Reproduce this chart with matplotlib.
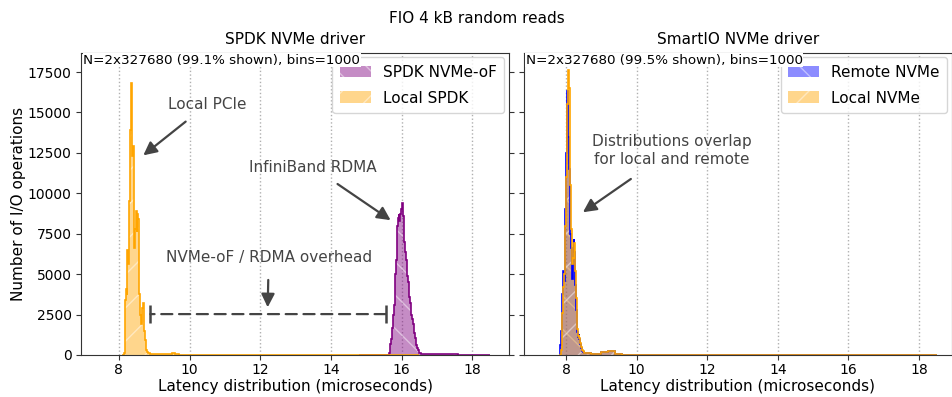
import numpy as np
import matplotlib
matplotlib.use("Agg")
import matplotlib.pyplot as plt

# ---------------------------------------------------------------------------
# Histogram data (latency in microseconds, number of I/O operations per bin)
# Core regions use 0.02 us bins; sparse tails use wider bins.
# ---------------------------------------------------------------------------
BIN = 0.02

# Left panel: SPDK driver
local_spdk_core_start = 8.10
local_spdk_core = [0, 0, 150, 1800, 3400, 4100, 3700, 6500, 5600, 9500,
                   11500, 13900, 16800, 15600, 12300, 12900, 9000, 6600, 7800, 8900,
                   7600, 8700, 8400, 5800, 3800, 2500, 1900, 2300, 2900, 3200,
                   2600, 1500, 900, 500, 300, 200, 150, 120, 100, 90]
local_spdk_tail_edges = [8.90, 9.0, 9.2, 9.4, 9.5, 9.6, 9.7, 10.0, 12.0, 14.5, 15.5, 16.5]
local_spdk_tail = [70, 45, 35, 60, 130, 60, 25, 8, 3, 15, 0]

nvmeof_head_edges = [14.8, 15.2, 15.62]
nvmeof_head = [10, 20]
nvmeof_core_start = 15.62
nvmeof_core = [0, 100, 300, 700, 1000, 1300, 1700, 2500, 3100, 3900,
               5000, 5900, 7000, 8000, 8500, 8700, 8300, 8700, 9000, 9300,
               9400, 8600, 7600, 7000, 6400, 5900, 5400, 4900, 4500, 4000,
               3600, 3200, 2900, 2500, 2200, 1900, 1600, 1350, 1050, 820,
               620, 450, 300, 200, 150, 110, 90, 80, 70, 60]
nvmeof_tail_edges = [16.62, 16.8, 17.0, 17.3, 17.6, 18.0, 18.5]
nvmeof_tail = [50, 40, 90, 50, 25, 15]

# Right panel: SmartIO driver
remote_core_start = 7.80
remote_core = [0, 150, 600, 1500, 2800, 3800, 5200, 4600, 6200, 9000,
               12500, 14800, 16300, 13500, 11500, 9800, 7500, 6600, 5200, 4700,
               5800, 7200, 6400, 4300, 2800, 1900, 1400, 1100, 1300, 1000,
               700, 450, 330, 250, 200, 160]
remote_tail_edges = [8.52, 8.7, 9.0, 9.2, 9.4, 9.6, 10.0, 11.0, 13.0, 15.0, 16.5, 17.5, 18.5]
remote_tail = [120, 80, 180, 220, 60, 20, 15, 20, 15, 25, 15, 10]

local_core_start = 7.80
local_core = [0, 0, 0, 300, 1300, 2600, 4200, 5000, 5600, 8000,
              11000, 13800, 15500, 17600, 16500, 14000, 10500, 7800, 6400, 5600,
              6000, 6700, 6900, 5200, 3500, 2300, 1600, 1200, 1250, 1050,
              750, 500, 380, 300, 220, 180]
local_tail_edges = [8.52, 8.7, 9.0, 9.2, 9.4, 9.6, 10.0, 11.0, 13.0, 15.0, 16.5, 17.5, 18.5]
local_tail = [130, 90, 200, 260, 70, 25, 15, 20, 15, 25, 15, 10]

# Span of the fabric overhead between the two distributions (us)
overhead_span = [8.89, 15.55]
overhead_level = 2530

x_ticks = [8, 10, 12, 14, 16, 18]
y_ticks = [0, 2500, 5000, 7500, 10000, 12500, 15000, 17500]


def assemble(parts):
    """Join (edges, counts) pieces into one set of bin edges and counts."""
    edges, counts = [], []
    for e, c in parts:
        e = list(e)
        if edges and abs(edges[-1] - e[0]) < 1e-9:
            e = e[1:]
        edges.extend(e)
        counts.extend(c)
    return np.array(edges), np.array(counts, dtype=float)


def core(start, counts):
    n = len(counts)
    return np.round(start + BIN * np.arange(n + 1), 4), counts


def draw_hist(ax, edges, counts, color, hatch, label, alpha=0.45, lw=1.2):
    centers = 0.5 * (edges[:-1] + edges[1:])
    ax.hist(centers, bins=edges, weights=counts, histtype="stepfilled",
            facecolor=color, edgecolor="white", linewidth=0, hatch=hatch,
            alpha=alpha, label=label)
    ax.hist(centers, bins=edges, weights=counts, histtype="step",
            color=color, linewidth=lw)


spdk_local_e, spdk_local_c = assemble([core(local_spdk_core_start, local_spdk_core),
                                       (local_spdk_tail_edges, local_spdk_tail)])
nvmeof_e, nvmeof_c = assemble([(nvmeof_head_edges, nvmeof_head),
                               core(nvmeof_core_start, nvmeof_core),
                               (nvmeof_tail_edges, nvmeof_tail)])
remote_e, remote_c = assemble([core(remote_core_start, remote_core),
                               (remote_tail_edges, remote_tail)])
local_e, local_c = assemble([core(local_core_start, local_core),
                             (local_tail_edges, local_tail)])

plt.rcParams["font.family"] = ["DejaVu Sans"]
plt.rcParams["hatch.linewidth"] = 1.0

fig = plt.figure(figsize=(9.53, 3.97), dpi=100)
ax1 = fig.add_axes([0.0855, 0.1058, 0.4486, 0.7615])
ax2 = fig.add_axes([0.5498, 0.1058, 0.4491, 0.7615])

ANN = "#444444"
ARROW = dict(arrowstyle="-|>", color=ANN, lw=1.6, mutation_scale=20, shrinkB=0)

# Left: SPDK
draw_hist(ax1, nvmeof_e, nvmeof_c, "purple", "\\", "SPDK NVMe-oF")
draw_hist(ax1, spdk_local_e, spdk_local_c, "orange", "/", "Local SPDK")
ax1.set_xlim(6.94, 19.04)
ax1.set_title("SPDK NVMe driver", fontsize=11, pad=6)
ax1.set_ylabel("Number of I/O operations", fontsize=11, labelpad=1.5)
ax1.text(0.004, 0.997, "N=2x327680 (99.1% shown), bins=1000", transform=ax1.transAxes,
         ha="left", va="top", fontsize=9.7, zorder=10,
         bbox=dict(facecolor="white", edgecolor="none", pad=0.5))

ax1.annotate("Local PCIe", xy=(8.69, 12350), xytext=(10.5, 15500),
             ha="center", va="center", fontsize=11, color=ANN,
             arrowprops=dict(ARROW, shrinkA=8))
ax1.annotate("InfiniBand RDMA", xy=(15.69, 8340), xytext=(13.5, 11600),
             ha="center", va="center", fontsize=11, color=ANN,
             arrowprops=dict(ARROW, shrinkA=8))
ax1.annotate("NVMe-oF / RDMA overhead", xy=(12.21, 2950), xytext=(12.24, 6050),
             ha="center", va="center", fontsize=11, color=ANN,
             arrowprops=dict(ARROW, shrinkA=9))
# dashed span with solid end bars
ax1.annotate("", xy=(overhead_span[0], overhead_level),
             xytext=(overhead_span[1], overhead_level),
             arrowprops=dict(arrowstyle="-", color=ANN, lw=1.6, linestyle=(0, (5, 3)),
                             shrinkA=0, shrinkB=0))
ax1.plot(overhead_span, [overhead_level] * 2, linestyle="none", marker="|",
         markersize=13, markeredgewidth=1.8, color=ANN)

# Right: SmartIO
draw_hist(ax2, remote_e, remote_c, "blue", "\\", "Remote NVMe")
draw_hist(ax2, local_e, local_c, "orange", "/", "Local NVMe")
ax2.set_xlim(6.81, 18.93)
ax2.set_title("SmartIO NVMe driver", fontsize=11, pad=6)
ax2.text(0.004, 0.997, "N=2x327680 (99.5% shown), bins=1000", transform=ax2.transAxes,
         ha="left", va="top", fontsize=9.7, zorder=10,
         bbox=dict(facecolor="white", edgecolor="none", pad=0.5))
ax2.annotate("Distributions overlap\nfor local and remote", xy=(8.48, 8830),
             xytext=(11.0, 12650), ha="center", va="center", fontsize=11, color=ANN,
             arrowprops=dict(ARROW, shrinkA=12))

for ax in (ax1, ax2):
    ax.set_ylim(0, 18700)
    ax.set_xticks(x_ticks)
    ax.set_yticks(y_ticks)
    ax.set_xlabel("Latency distribution (microseconds)", fontsize=11, labelpad=1)
    ax.grid(axis="x", linestyle=":", color="#b0b0b0", linewidth=1.0)
    ax.set_axisbelow(True)
    ax.tick_params(axis="both", labelsize=10, right=True, color="#333333")
    ax.tick_params(axis="x", pad=2.5)
    for s in ax.spines.values():
        s.set_color("#333333")
    leg = ax.legend(loc="upper right", fontsize=11, borderaxespad=0.3,
                    labelspacing=0.7, borderpad=0.5, handleheight=0.8)
    leg.set_zorder(5)
ax2.tick_params(axis="y", labelleft=False)

fig.suptitle("FIO 4 kB random reads", fontsize=11, y=0.972)

fig.savefig("out.png", dpi=100)
